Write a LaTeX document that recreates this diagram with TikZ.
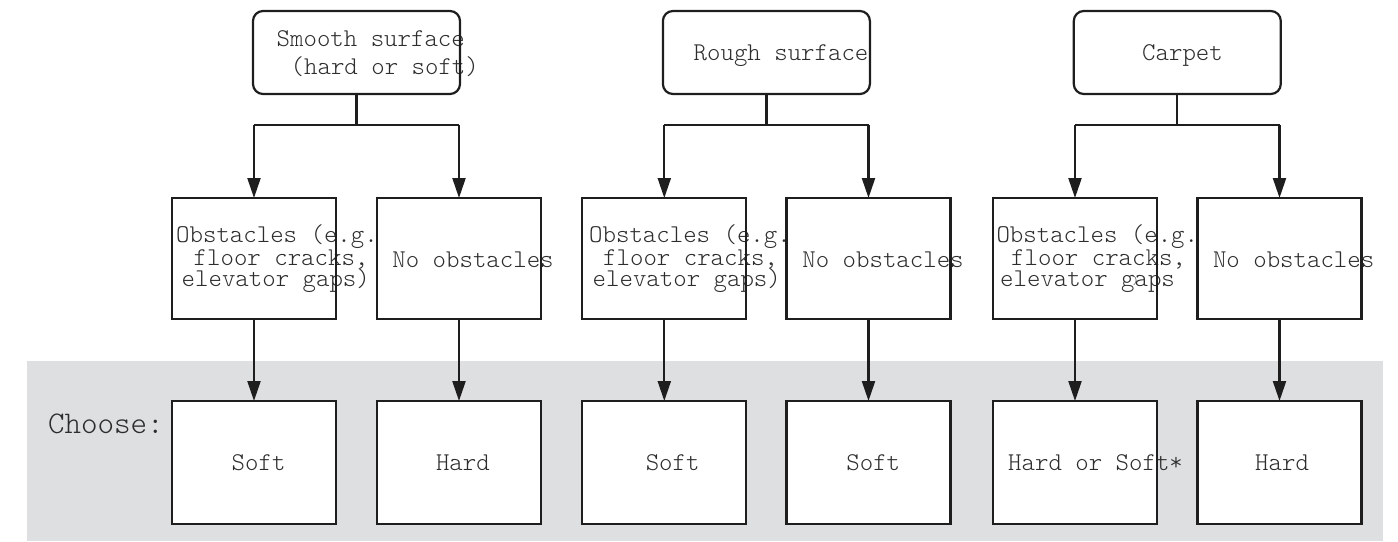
\documentclass[tikz,border=0pt]{standalone}
\usepackage{fontspec}
\setmonofont{Latin Modern Mono Light}
\usetikzlibrary{arrows.meta}
\definecolor{bandgray}{RGB}{222,223,225}
\definecolor{inkc}{RGB}{30,30,30}
\definecolor{txtc}{RGB}{45,45,45}
\tikzset{
  frameline/.style={draw=inkc, line width=2.2pt},
  conn/.style={draw=inkc, line width=2.2pt},
  arr/.style={conn, -{Triangle[length=20pt,width=13pt]}},
  lbl/.style={font=\ttfamily\fontsize{25.6}{25.6}\selectfont, text=txtc, inner sep=0pt, anchor=base west},
  topslot/.style={inner sep=0pt, outer sep=0pt, minimum width=207pt, minimum height=83pt},
  midslot/.style={inner sep=0pt, outer sep=0pt, minimum width=164pt, minimum height=121pt},
  botslot/.style={inner sep=0pt, outer sep=0pt, minimum width=164pt, minimum height=123pt, fill=white},
}
\begin{document}
\begin{tikzpicture}[x=1pt,y=-1pt]
\useasboundingbox (0,0) rectangle (1398,541);
% band
\fill[bandgray] (27,361) rectangle (1383,541);

% top boxes
\node[topslot] (t1) at (356.5,52.5) {};
\node[topslot] (t2) at (766.4,52.5) {};
\node[topslot] (t3) at (1177.3,52.5) {};
% middle boxes
\node[midslot] (m1) at (254,258.5) {};
\node[midslot] (m2) at (459,258.5) {};
\node[midslot] (m3) at (664.3,258.5) {};
\node[midslot] (m4) at (868.5,258.5) {};
\node[midslot] (m5) at (1075,258.5) {};
\node[midslot] (m6) at (1279.5,258.5) {};
% bottom boxes
\node[botslot] (b1) at (254,462.5) {};
\node[botslot] (b2) at (459,462.5) {};
\node[botslot] (b3) at (664.3,462.5) {};
\node[botslot] (b4) at (868.5,462.5) {};
\node[botslot] (b5) at (1075,462.5) {};
\node[botslot] (b6) at (1279.5,462.5) {};

% texts
\node[lbl] (tt1a) at (276.5,46.7) {Smooth surface};
\node[lbl] (tt1b) at (290.5,74.3) {(hard or soft)};
\node[lbl] (tt2) at (693.5,60) {Rough surface};
\node[lbl] (tt3) at (1142,60) {Carpet};

\node[lbl] (mt1a) at (176,242.7) {Obstacles (e.g.};
\node[lbl] (mt1b) at (193.5,265) {floor cracks,};
\node[lbl] (mt1c) at (181.5,286.7) {elevator gaps)};
\node[lbl] (mt2) at (392.2,267) {No obstacles};
\node[lbl] (mt3a) at (589,242.7) {Obstacles (e.g.};
\node[lbl] (mt3b) at (603,265) {floor cracks,};
\node[lbl] (mt3c) at (592.5,286.7) {elevator gaps)};
\node[lbl] (mt4) at (802.2,267) {No obstacles};
\node[lbl] (mt5a) at (996.3,242.7) {Obstacles (e.g.};
\node[lbl] (mt5b) at (1011,265) {floor cracks,};
\node[lbl] (mt5c) at (1000,286.7) {elevator gaps};
\node[font=\ttfamily\fontsize{12}{12}\selectfont, text=txtc, inner sep=0pt] (mt5d) at (1135.5,281) {)};
\node[lbl] (mt6) at (1212.8,267) {No obstacles};

\node[lbl] (bt1) at (231.5,470) {Soft};
\node[lbl] (bt2) at (435.8,470) {Hard};
\node[lbl] (bt3) at (645.6,470) {Soft};
\node[lbl] (bt4) at (846.2,470) {Soft};
\node[lbl] (bt5) at (1008,470) {Hard or Soft*};
\node[lbl] (bt6) at (1255,470) {Hard};

\node[lbl, font=\ttfamily\fontsize{31.5}{31.5}\selectfont] (choose) at (47.8,433.3) {Choose:};

% frames
\foreach \n in {t1,t2,t3}
  \draw[frameline, rounded corners=10pt] (\n.south west) rectangle (\n.north east);
\foreach \n in {m1,m2,m3,m4,m5,m6,b1,b2,b3,b4,b5,b6}
  \draw[frameline] (\n.south west) rectangle (\n.north east);

% connectors
\foreach \t/\a/\b/\c/\d in {t1/m1/m2/b1/b2, t2/m3/m4/b3/b4, t3/m5/m6/b5/b6}{
  \draw[conn] (\t.south) -- ++(0,31) coordinate (j\t);
  \draw[conn] (\a.north |- j\t) -- (\b.north |- j\t);
  \draw[arr] (\a.north |- j\t) -- (\a.north);
  \draw[arr] (\b.north |- j\t) -- (\b.north);
  \draw[arr] (\a.south) -- (\c.north);
  \draw[arr] (\b.south) -- (\d.north);
}
\end{tikzpicture}
\end{document}
